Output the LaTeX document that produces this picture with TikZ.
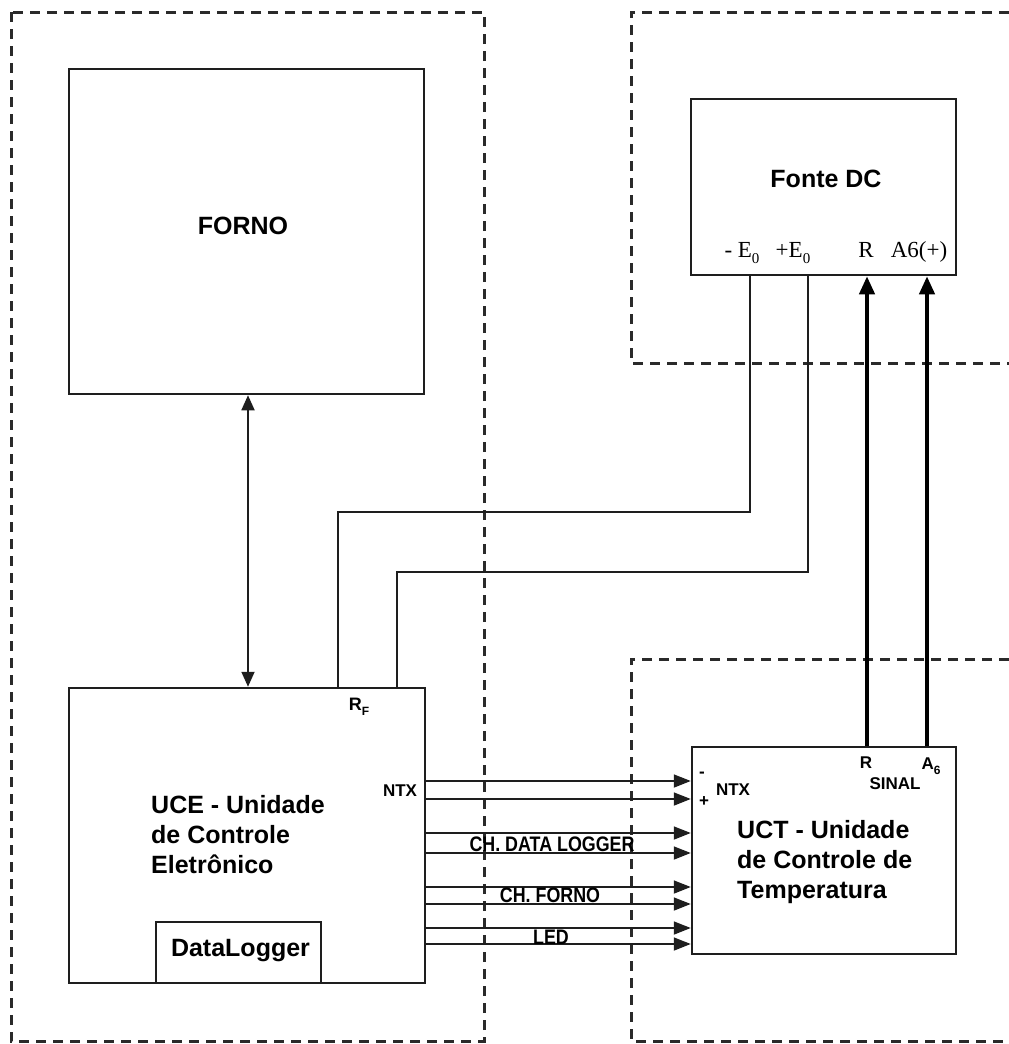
\documentclass[tikz,border=0pt]{standalone}
\usepackage{fontspec}
\setmainfont{Liberation Sans}
\newfontfamily\seriffont{Liberation Serif}
\newfontfamily\narrowbold[FakeStretch=0.85]{Liberation Sans Bold}
\usetikzlibrary{arrows.meta}
\definecolor{ink}{HTML}{1E1E1E}
\definecolor{dash}{HTML}{2A2A2A}
\newcommand\lowsub[2]{\raisebox{-0.3em}{\fontsize{#1}{#1}\selectfont #2}}
\begin{document}
\begin{tikzpicture}[x=1pt,y=-1pt,
  box/.style={draw=ink, line width=2.5pt, inner sep=0pt},
  dashline/.style={draw=dash, line width=3pt, dash pattern=on 10pt off 7pt},
  wire/.style={draw=ink, line width=1.8pt},
  arr/.style={wire, -{Triangle[length=17pt,width=13pt]}},
  dbl/.style={wire, {Triangle[length=15pt,width=13pt]}-{Triangle[length=15pt,width=13pt]}},
  tharr/.style={draw=black, line width=4pt, -{Triangle[length=18pt,width=15pt]}},
  bigtxt/.style={font=\fontsize{25}{30}\selectfont\bfseries, inner sep=0pt},
  sertxt/.style={font=\fontsize{23}{23}\selectfont\seriffont, inner sep=0pt, anchor=base},
  chtxt/.style={font=\fontsize{21}{21}\selectfont\narrowbold, inner sep=0pt},
  smalltxt/.style={font=\fontsize{17}{17}\selectfont\bfseries, inner sep=0pt}
]
\useasboundingbox (0,0) rectangle (1009,1044);
% dashed regions
\draw[dashline] (11,12) rectangle (484,1041);
\draw[dashline] (1009,12) -- (631,12) -- (631,363) -- (1009,363);
\draw[dashline] (1009,659) -- (631,659) -- (631,1041) -- (1009,1041);

% boxes
\node[box, minimum width=355pt, minimum height=325pt] (forno) at (246.5,231.5) {};
\node[box, minimum width=265pt, minimum height=176pt] (fonte) at (823.5,187) {};
\node[box, minimum width=356pt, minimum height=295pt] (uce) at (247,835.5) {};
\node[box, minimum width=165pt, minimum height=61pt] (dlog) at (238.5,952.5) {};
\node[box, minimum width=264pt, minimum height=207pt] (uct) at (824,850.5) {};

% texts
\node[bigtxt] (tforno) at (243,226) {FORNO};
\node[bigtxt] (tfonte) at (826,179) {Fonte DC};
\node[bigtxt] (tdlog) at (240.5,951) {DataLogger};
\node[bigtxt, align=left, anchor=west] (tuce) at (151,835) {UCE - Unidade\\de Controle\\Eletrônico};
\node[bigtxt, align=left, anchor=west] (tuct) at (737,862) {UCT - Unidade\\de Controle de\\Temperatura};

\node[sertxt] (lme) at (742,257) {- E\lowsub{15}{0}};
\node[sertxt] (lpe) at (793,257) {+E\lowsub{15}{0}};
\node[sertxt] (lr) at (866,257) {R};
\node[sertxt] (la6) at (919,257) {A6(+)};

\node[font=\fontsize{18}{18}\selectfont\bfseries, inner sep=0pt] (rf) at (359,707) {R\lowsub{12}{F}};
\node[smalltxt] (ntxl) at (400,791) {NTX};
\node[smalltxt] (ntxr) at (733,790) {NTX};
\node[smalltxt] (minus) at (702,775) {-};
\node[smalltxt] (plus) at (704,802) {+};
\node[smalltxt] (rr) at (866,763) {R};
\node[smalltxt] (a6) at (931,766) {A\lowsub{12}{6}};
\node[smalltxt] (sinal) at (895,784) {SINAL};

% connectors
\coordinate (ax) at (248,0);
\draw[dbl] (forno.south -| ax) -- (uce.north -| ax);

\coordinate (w1) at (750,512);
\coordinate (w1b) at (338,512);
\coordinate (w2) at (808,572);
\coordinate (w2b) at (397,572);
\draw[wire] (fonte.south -| w1) -- (w1) -- (w1b) -- (uce.north -| w1b);
\draw[wire] (fonte.south -| w2) -- (w2) -- (w2b) -- (uce.north -| w2b);

\coordinate (t1) at (867,0);
\coordinate (t2) at (927,0);
\draw[tharr] (uct.north -| t1) -- (fonte.south -| t1);
\draw[tharr] (uct.north -| t2) -- (fonte.south -| t2);

\foreach \yy in {781,799,833,853,887,904,928,944}{
  \draw[arr] (uce.east |- 0,\yy) -- (uct.west |- 0,\yy);
}

\node[chtxt] (chdl) at (552,844) {CH. DATA LOGGER};
\node[chtxt] (chf) at (550,895) {CH. FORNO};
\node[chtxt] (led) at (551,937) {LED};
\end{tikzpicture}
\end{document}
